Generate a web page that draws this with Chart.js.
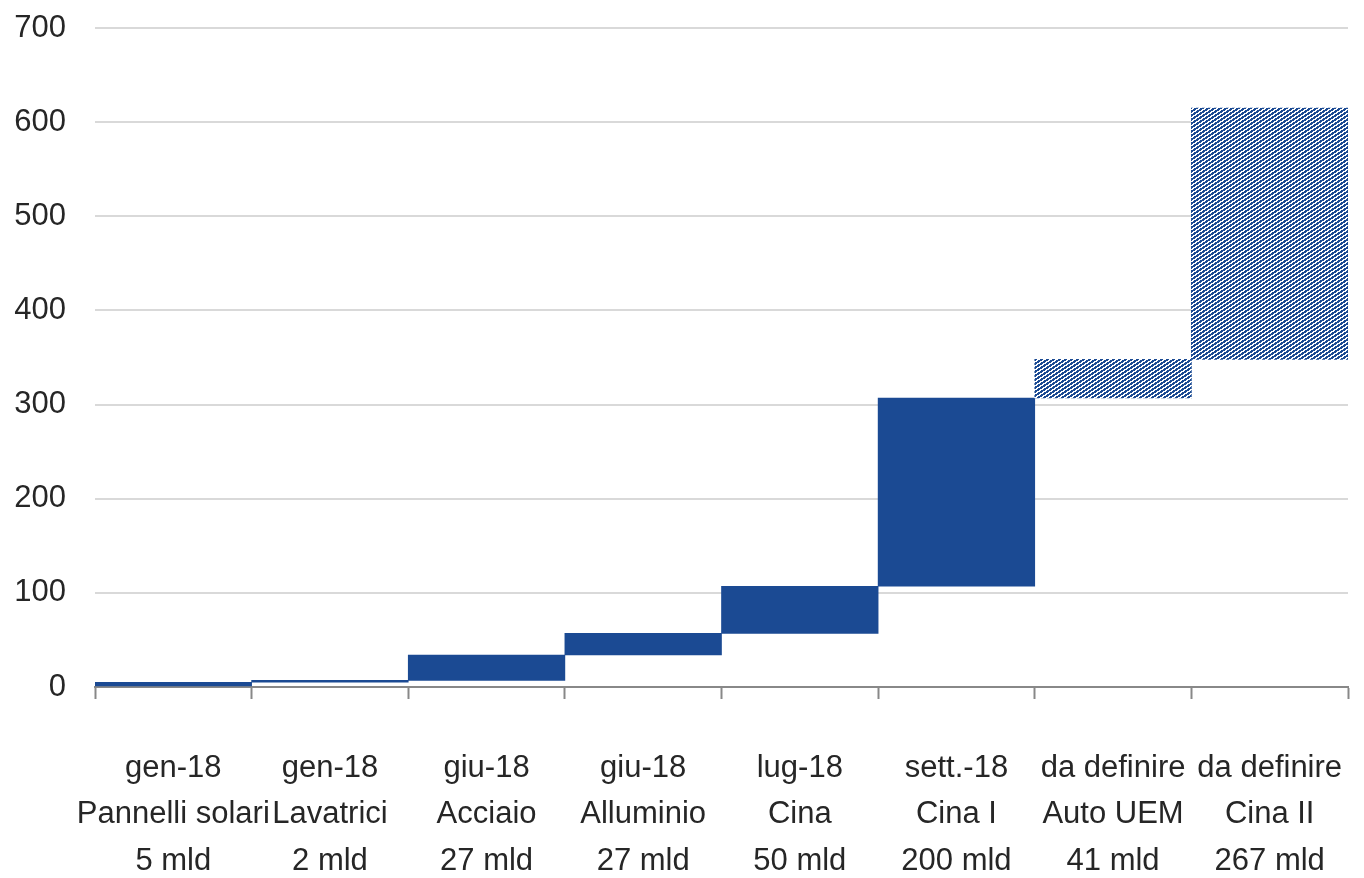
<!DOCTYPE html>
<html>
<head>
<meta charset="utf-8">
<script src="https://cdn.jsdelivr.net/npm/chart.js@4/dist/chart.umd.min.js"></script>
<style>
  html, body { margin: 0; padding: 0; background: #fff; }
  #box { width: 1364px; height: 878px; }
</style>
</head>
<body>
<div id="box"><canvas id="dazi"></canvas></div>
<script>
// etichette asse x (tre righe per categoria)
const dateDazi = ['gen-18', 'gen-18', 'giu-18', 'giu-18', 'lug-18', 'sett.-18', 'da definire', 'da definire'];
const prodotti = ['Pannelli solari', 'Lavatrici', 'Acciaio', 'Alluminio', 'Cina', 'Cina I', 'Auto UEM', 'Cina II'];
const importi = ['5 mld', '2 mld', '27 mld', '27 mld', '50 mld', '200 mld', '41 mld', '267 mld'];

// base e cima di ogni barra
const basi = [0, 5, 7, 34, 57, 107, 307, 348];
const cime = [5, 7, 34, 57, 107, 307, 348, 615];
// quali barre sono tratteggiate (misure ancora da definire)
const daDefinire = [false, false, false, false, false, false, true, true];

const yTicks = [0, 100, 200, 300, 400, 500, 600, 700];

const BLU = '#1b4a93';
const FONT = '"Liberation Sans", Arial, sans-serif';

// tratteggio diagonale a pixel pieni: periodo 6px in orizzontale, 4px in verticale
function tratteggio() {
    const c = document.createElement('canvas');
    c.width = 6; c.height = 4;
    const g = c.getContext('2d');
    const img = g.createImageData(6, 4);
    for (let y = 0; y < 4; y++) {
        for (let x = 0; x < 6; x++) {
            const i = (y * 6 + x) * 4;
            const pieno = ((2 * x + 3 * y) % 12) < 7;
            img.data[i] = pieno ? 0x1b : 255;
            img.data[i + 1] = pieno ? 0x4a : 255;
            img.data[i + 2] = pieno ? 0x93 : 255;
            img.data[i + 3] = 255;
        }
    }
    g.putImageData(img, 0, 0);
    return g.createPattern(c, 'repeat');
}

document.addEventListener('DOMContentLoaded', () => {
    const ctx = document.getElementById('dazi').getContext('2d');
    const hatch = tratteggio();

    const etichette = dateDazi.map((d, i) => [d, prodotti[i], importi[i]]);
    const barre = basi.map((b, i) => [b, cime[i]]);
    const colori = daDefinire.map(t => t ? hatch : BLU);

    new Chart(ctx, {
        type: 'bar',
        data: {
            labels: etichette,
            datasets: [{
                data: barre,
                backgroundColor: colori,
                borderWidth: 0,
                barPercentage: 1,
                categoryPercentage: 1
            }]
        },
        options: {
            responsive: true,
            maintainAspectRatio: false,
            animation: false,
            layout: { padding: { top: 28, right: 16, left: 0, bottom: 0 } },
            plugins: {
                legend: { display: false },
                tooltip: { enabled: false }
            },
            scales: {
                x: {
                    afterFit: s => { s.height = 191; s.paddingLeft = 0; s.paddingRight = 0; },
                    grid: {
                        display: true,
                        drawOnChartArea: false,
                        drawTicks: true,
                        tickLength: 12,
                        tickWidth: 2,
                        tickColor: '#888888',
                        offset: true
                    },
                    border: { display: true, color: '#888888', width: 2 },
                    ticks: {
                        color: '#262626',
                        font: { family: FONT, size: 31, lineHeight: 1.5 },
                        padding: 46,
                        maxRotation: 0,
                        autoSkip: false
                    }
                },
                y: {
                    min: 0,
                    max: 700,
                    afterBuildTicks: axis => { axis.ticks = yTicks.map(v => ({ value: v })); },
                    afterFit: s => { s.width = 95; s.paddingTop = 0; s.paddingBottom = 0; },
                    grid: {
                        color: c => c.tick && c.tick.value === 0 ? 'rgba(0,0,0,0)' : '#d9d9d9',
                        lineWidth: 2,
                        drawTicks: false
                    },
                    border: { display: false },
                    ticks: {
                        color: '#262626',
                        font: { family: FONT, size: 31 },
                        padding: 29
                    }
                }
            }
        }
    });
});
</script>
</body>
</html>
